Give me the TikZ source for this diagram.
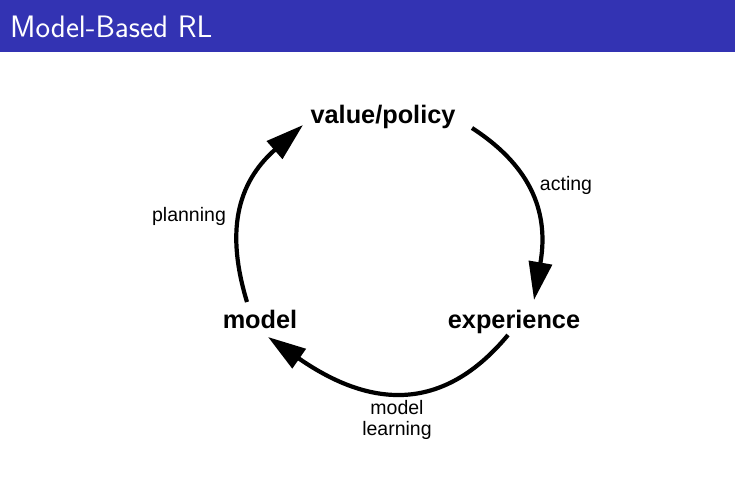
\documentclass[tikz,border=0pt]{standalone}
\usepackage{fontspec}
\newfontfamily\helv{Liberation Sans}
\usetikzlibrary{arrows.meta}
\definecolor{framebar}{RGB}{51,51,179}
\begin{document}
\begin{tikzpicture}[x=1pt,y=-1pt,
  stagelbl/.style={font=\helv\bfseries\fontsize{25.3}{28}\selectfont, inner sep=0pt, anchor=base},
  edgelbl/.style={font=\helv\fontsize{19.5}{21}\selectfont, inner sep=0pt},
  cyclearc/.style={line width=4.2pt, -{Triangle[length=38pt,width=23pt]}}]
  % page and title bar
  \useasboundingbox (0,0) rectangle (735,476);
  \fill[white] (0,0) rectangle (735,476);
  \fill[framebar] (0,0) rectangle (735,52);
  \node[anchor=base west, inner sep=0pt, text=white,
        font=\sffamily\fontsize{31}{36}\selectfont] (title) at (10,38) {Model-Based RL};

  % the three stages of the cycle
  \node[stagelbl] (vp)  at (383,124)   {value/policy};
  \node[stagelbl] (exp) at (514,328) {experience};
  \node[stagelbl] (mod) at (260,328)   {model};

  % labels of the transitions
  \node[edgelbl, anchor=base] (act)  at (566,190) {acting};
  \node[edgelbl, anchor=base] (plan) at (189,221) {planning};
  \node[edgelbl, align=center] (learn) at (397,420) {model\\learning};

  % arc end points
  \coordinate (actS)   at (472,128);
  \coordinate (actE)   at (534,300);
  \coordinate (learnS) at (508,335);
  \coordinate (learnE) at (268,337);
  \coordinate (planS)  at (247,302);
  \coordinate (planE)  at (303,125);

  % value/policy -> experience
  \draw[cyclearc] (actS) .. controls (540,172) and (547.4,222.6) .. (actE);
  % experience -> model
  \draw[cyclearc] (learnS) .. controls (437.6,419.7) and (362.3,402.6) .. (learnE);
  % model -> value/policy
  \draw[cyclearc] (planS) .. controls (226,233) and (236,184) .. (planE);
\end{tikzpicture}
\end{document}
